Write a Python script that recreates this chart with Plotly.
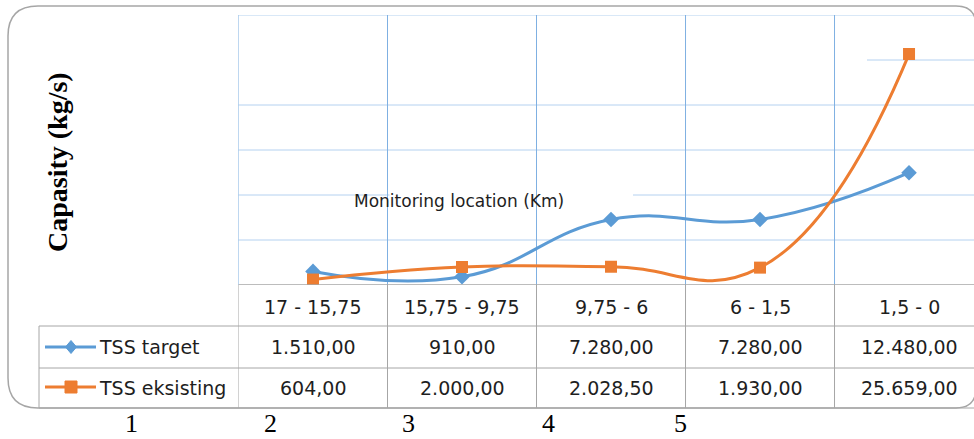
import plotly.graph_objects as go

# ---------------- data ----------------
categories = ["17 - 15,75", "15,75 - 9,75", "9,75 - 6", "6 - 1,5", "1,5 - 0"]
tss_target = [1510.00, 910.00, 7280.00, 7280.00, 12480.00]
tss_eksisting = [604.00, 2000.00, 2028.50, 1930.00, 25659.00]
series_names = ["TSS target", "TSS eksisting"]
y_ticks = [0, 5000, 10000, 15000, 20000, 25000, 30000]
column_numbers = ["1", "2", "3", "4", "5"]

# ---------------- helpers ----------------
W, H = 974, 439
BLUE = "#5B9BD5"
ORANGE = "#ED7D31"
GRID_H = "#B4D1F0"
GRID_V = "#7FB0E2"
TABLE = "#A6A6A6"
TXT = "#1E1E1E"
SANS = "DejaVu Sans"
SERIF = "Liberation Serif"


def px(x):
    return x / W


def py(y):
    return 1 - y / H


def fmt(v):
    s = f"{v:,.2f}"
    return s.replace(",", "X").replace(".", ",").replace("X", ".")


xs = list(range(len(categories)))
bounds = [i - 0.5 for i in xs]

fig = go.Figure()
fig.add_trace(go.Scatter(
    x=xs, y=tss_target, mode="lines+markers", name=series_names[0],
    line=dict(color=BLUE, width=3, shape="spline", smoothing=1.3),
    marker=dict(symbol="diamond", size=12, color=BLUE),
    hoverinfo="skip", showlegend=False))
fig.add_trace(go.Scatter(
    x=xs, y=tss_eksisting, mode="lines+markers", name=series_names[1],
    line=dict(color=ORANGE, width=3, shape="spline", smoothing=1.3),
    marker=dict(symbol="square", size=12, color=ORANGE),
    hoverinfo="skip", showlegend=False))

shapes = []
# horizontal gridlines
for t in y_ticks[1:]:
    shapes.append(dict(type="line", xref="paper", yref="y", x0=px(238.5), x1=1,
                       y0=t, y1=t, line=dict(color=GRID_H, width=1), layer="below"))
# vertical gridlines (between categories)
for b in bounds:
    shapes.append(dict(type="line", xref="x", yref="y", x0=b, x1=b,
                       y0=y_ticks[0], y1=y_ticks[-1], line=dict(color=GRID_V, width=1),
                       layer="below"))
# white patches present in the original picture
shapes.append(dict(type="rect", xref="paper", yref="paper", x0=px(225), x1=px(867),
                   y0=py(104), y1=py(33), fillcolor="white", line=dict(width=0), layer="below"))
shapes.append(dict(type="rect", xref="paper", yref="paper", x0=px(389.5), x1=px(633),
                   y0=py(205), y1=py(177), fillcolor="white", line=dict(width=0), layer="below"))
# category axis line
shapes.append(dict(type="line", xref="paper", yref="y", x0=px(238.5), x1=1,
                   y0=y_ticks[0], y1=y_ticks[0], line=dict(color=TABLE, width=1.5)))
# data table grid
for yy in (326, 368, 408):
    shapes.append(dict(type="line", xref="paper", yref="paper", x0=px(39), x1=1,
                       y0=py(yy), y1=py(yy), line=dict(color=TABLE, width=1)))
shapes.append(dict(type="line", xref="paper", yref="paper", x0=px(39), x1=px(39),
                   y0=py(326), y1=py(408), line=dict(color=TABLE, width=1)))
for b in bounds:
    shapes.append(dict(type="line", xref="x", yref="paper", x0=b, x1=b,
                       y0=py(285), y1=py(408), line=dict(color=TABLE, width=1)))
# outer rounded border
L, T, R, B, rl, rr = 8, 6, 976, 408, 30, 20
path = (f"M {px(L+rl)},{py(T)} L {px(R-rr)},{py(T)} Q {px(R)},{py(T)} {px(R)},{py(T+rr)} "
        f"L {px(R)},{py(B-rr)} Q {px(R)},{py(B)} {px(R-rr)},{py(B)} "
        f"L {px(L+rl)},{py(B)} Q {px(L)},{py(B)} {px(L)},{py(B-rl)} "
        f"L {px(L)},{py(T+rl)} Q {px(L)},{py(T)} {px(L+rl)},{py(T)} Z")
shapes.append(dict(type="path", xref="paper", yref="paper", path=path,
                   line=dict(color=TABLE, width=1.5)))
# legend keys inside the table
for yy, col in ((347, BLUE), (387, ORANGE)):
    shapes.append(dict(type="line", xref="paper", yref="paper", x0=px(45), x1=px(96),
                       y0=py(yy), y1=py(yy), line=dict(color=col, width=3)))
shapes.append(dict(type="path", xref="paper", yref="paper",
                   path=f"M {px(71)},{py(340.5)} L {px(76.5)},{py(347)} L {px(71)},{py(353.5)} L {px(65.5)},{py(347)} Z",
                   fillcolor=BLUE, line=dict(color=BLUE, width=1)))
shapes.append(dict(type="rect", xref="paper", yref="paper", x0=px(65), x1=px(77),
                   y0=py(393), y1=py(381), fillcolor=ORANGE, line=dict(color=ORANGE, width=1)))

annotations = []
for i, c in enumerate(categories):
    annotations.append(dict(x=i, xref="x", y=py(307), yref="paper", text=c, showarrow=False,
                            xanchor="center", yanchor="middle", font=dict(family=SANS, size=19, color=TXT)))
    annotations.append(dict(x=i, xref="x", y=py(347), yref="paper", text=fmt(tss_target[i]),
                            showarrow=False, xanchor="center", yanchor="middle",
                            font=dict(family=SANS, size=19, color=TXT)))
    annotations.append(dict(x=i, xref="x", y=py(388), yref="paper", text=fmt(tss_eksisting[i]),
                            showarrow=False, xanchor="center", yanchor="middle",
                            font=dict(family=SANS, size=19, color=TXT)))
for name, yy in zip(series_names, (347, 388)):
    annotations.append(dict(x=px(97), xref="paper", y=py(yy), yref="paper", text=name,
                            showarrow=False, xanchor="left", yanchor="middle",
                            font=dict(family=SANS, size=19, color=TXT)))
annotations.append(dict(x=px(459), xref="paper", y=py(201), yref="paper",
                        text="Monitoring location (Km)", showarrow=False,
                        xanchor="center", yanchor="middle",
                        font=dict(family=SANS, size=17, color=TXT)))
annotations.append(dict(x=px(57), xref="paper", y=py(162), yref="paper",
                        text="<b>Capasity (kg/s)</b>", showarrow=False, textangle=-90,
                        xanchor="center", yanchor="middle",
                        font=dict(family=SERIF, size=28, color="#000000")))
for n, xx in zip(column_numbers, (131, 270, 408, 548, 680)):
    annotations.append(dict(x=px(xx), xref="paper", y=py(438.5), yref="paper", text=n,
                            showarrow=False, xanchor="center", yanchor="bottom", borderpad=0,
                            font=dict(family=SERIF, size=26, color="#000000")))

fig.update_layout(
    width=W, height=H,
    margin=dict(l=0, r=0, t=0, b=0, autoexpand=False),
    paper_bgcolor="white", plot_bgcolor="rgba(0,0,0,0)",
    xaxis=dict(domain=[px(238.5), 1], range=[-0.5, 4.436], showgrid=False, zeroline=False,
               showticklabels=False, showline=False, ticks="", fixedrange=True),
    yaxis=dict(domain=[py(285), py(15)], range=[y_ticks[0], y_ticks[-1]], showgrid=False,
               zeroline=False, showticklabels=False, showline=False, ticks="", fixedrange=True),
    shapes=shapes, annotations=annotations,
)

fig.write_html("out.html", config={"displayModeBar": False},
               post_script="document.body.style.margin='0';document.body.style.overflow='hidden';")
